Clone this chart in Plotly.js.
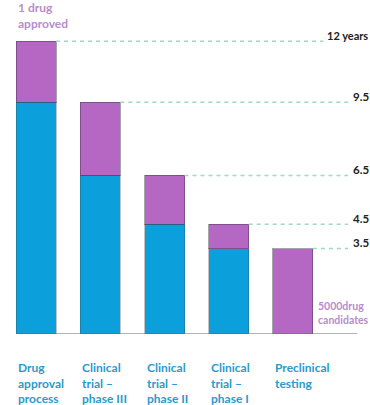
<!DOCTYPE html>
<html>
<head>
<meta charset="utf-8">
<script src="https://cdn.plot.ly/plotly-3.0.1.min.js"></script>
<style>html,body{margin:0;padding:0;background:#fff;}#chart{width:370px;height:405px;}</style>
</head>
<body>
<div id="chart"></div>
<script>
// Data
var categories = ["Drug approval process", "Clinical trial – phase III", "Clinical trial – phase II", "Clinical trial – phase I", "Preclinical testing"];
var tickLabels = ["Drug<br>approval<br>process", "Clinical<br>trial –<br>phase III", "Clinical<br>trial –<br>phase II", "Clinical<br>trial –<br>phase I", "Preclinical<br>testing"];
var priorYears = [9.5, 6.5, 4.5, 3.5, 0];     // blue: cumulative years before this stage
var stageYears = [2.5, 3, 2, 1, 3.5];         // purple: years in this stage
var totalYears = [12, 9.5, 6.5, 4.5, 3.5];    // cumulative total
var totalLabels = ["12 years", "9.5", "6.5", "4.5", "3.5"];
var topNote = "1 drug<br>approved";
var bottomNote = "5000drug<br>candidates";

var BLUE = "#0ba0db", PURPLE = "#b468c4", LABEL_BLUE = "#2b9acb", NOTE_PURPLE = "#b98ccf";
var FONT = "Lato, 'Open Sans', sans-serif";
var nCat = categories.length;
var halfW = 0.311;

function paperX(v) { return (v + 0.5) / nCat; }

var traces = [
  {type: "bar", x: categories, y: priorYears, marker: {color: BLUE, line: {color: "rgba(60,60,70,0.3)", width: 1}}, hoverinfo: "skip"},
  {type: "bar", x: categories, y: stageYears, marker: {color: PURPLE, line: {color: "rgba(60,50,70,0.45)", width: 1}}, hoverinfo: "skip"}
];

var shapes = [];
var annotations = [];
for (var i = 0; i < nCat; i++) {
  var lineEnd = i === 0 ? 0.995 : 1.072;
  shapes.push({type: "line", xref: "paper", yref: "y", x0: paperX(i + halfW), x1: lineEnd, y0: totalYears[i], y1: totalYears[i],
    line: {color: "#9fd8c6", width: 1.5, dash: "4px,4px"}});
  annotations.push({xref: "paper", yref: "y", x: i === 0 ? 1.0 : 1.081, y: totalYears[i], xanchor: "left", yanchor: "middle", yshift: 6,
    text: totalLabels[i], showarrow: false, font: {family: FONT, size: i === 0 ? 11 : 11.5, color: "#222", weight: 700}});
  annotations.push({xref: "paper", yref: "paper", x: paperX(i - halfW), y: -0.08, xanchor: "left", yanchor: "top", align: "left",
    text: tickLabels[i], showarrow: false, font: {family: FONT, size: 12, color: LABEL_BLUE, weight: 700}});
}
shapes.push({type: "line", xref: "paper", yref: "y", x0: paperX(0 - halfW), x1: 1.1, y0: 0, y1: 0, line: {color: "#666", width: 1}});

annotations.push({xref: "paper", yref: "y", x: paperX(0 - halfW), y: totalYears[0], xanchor: "left", yanchor: "bottom", yshift: 8, align: "left",
  text: topNote, showarrow: false, font: {family: FONT, size: 12, color: NOTE_PURPLE, weight: 700}});
annotations.push({xref: "paper", yref: "paper", x: 0.972, y: 0.07, xanchor: "left", yanchor: "middle", align: "left",
  text: bottomNote, showarrow: false, font: {family: FONT, size: 10.5, color: NOTE_PURPLE, weight: 700}});

var layout = {
  width: 370, height: 405,
  margin: {l: 4, r: 45, t: 29, b: 71},
  paper_bgcolor: "#fff", plot_bgcolor: "#fff",
  barmode: "stack", bargap: 0.377,
  showlegend: false,
  xaxis: {type: "category", range: [-0.5, nCat - 0.5], showticklabels: false, showgrid: false, zeroline: false, showline: false, ticks: ""},
  yaxis: {range: [0, 12.5], showticklabels: false, showgrid: false, zeroline: false, showline: false, ticks: ""},
  shapes: shapes,
  annotations: annotations
};

Plotly.newPlot("chart", traces, layout, {displayModeBar: false, staticPlot: true});
</script>
</body>
</html>
